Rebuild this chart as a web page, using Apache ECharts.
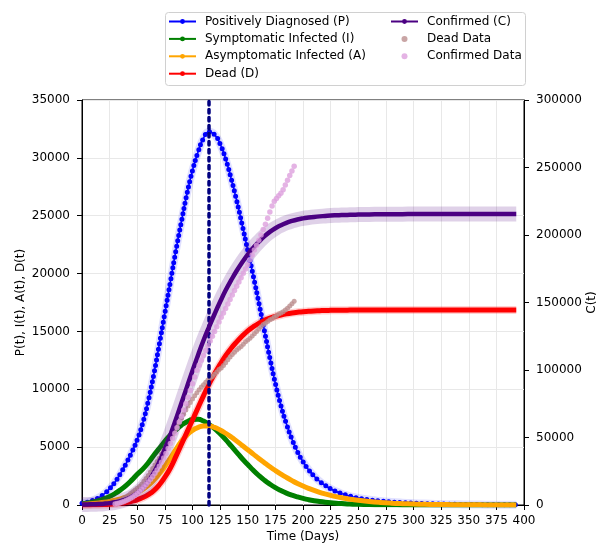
<!DOCTYPE html>
<html>
<head>
<meta charset="utf-8">
<script src="https://cdn.jsdelivr.net/npm/echarts@6/dist/echarts.min.js"></script>
<style>
  html, body { margin: 0; padding: 0; background: #fff; }
  #chart { width: 598px; height: 543px; }
</style>
</head>
<body>
<div id="chart"></div>
<script>
// Model time grid (days)
const modelDays = [0,5,10,15,20,25,30,35,40,45,50,55,60,65,70,75,80,85,90,95,100,105,110,115,120,125,130,135,140,145,150,155,160,165,170,175,180,185,190,195,200,205,210,215,220,225,230,235,240,245,250,260,270,280,290,300,310,320,330,340,350,360,370,380,390,393];

// Positively diagnosed P(t)
const positive = [150,250,400,620,950,1400,2000,2750,3600,4550,5650,7100,9000,11300,13900,16600,19300,22000,24500,26900,28900,30500,31700,32250,32000,31200,29900,28200,26300,24200,22000,19800,17500,15100,12700,10500,8600,7000,5700,4600,3750,3050,2500,2050,1700,1400,1170,980,830,700,600,450,340,260,200,155,120,92,72,56,44,34,27,21,17,16];

// Symptomatic infected I(t)
const symptomatic = [100,170,260,380,540,740,1000,1320,1700,2150,2650,3100,3650,4300,4900,5500,6050,6500,6900,7200,7380,7400,7250,6950,6600,6150,5650,5100,4550,4000,3500,3000,2550,2150,1800,1500,1250,1030,850,700,570,460,370,300,240,190,150,120,95,75,60,38,24,15,9,6,4,3,2,1,1,1,0,0,0,0];

// Asymptomatic infected A(t)
const asymptomatic = [50,80,120,170,230,310,410,530,680,860,1080,1350,1700,2150,2700,3350,4050,4800,5500,6050,6450,6700,6830,6830,6700,6480,6200,5880,5520,5150,4780,4400,4020,3660,3310,2980,2670,2380,2110,1860,1640,1440,1260,1100,960,835,725,630,545,470,405,300,220,160,117,85,62,45,33,24,17,12,9,6,4,4];

// Dead D(t)
const dead = [0,5,12,22,40,65,100,150,220,320,450,640,900,1250,1750,2400,3200,4200,5250,6300,7350,8400,9450,10450,11350,12150,12900,13550,14100,14600,15050,15400,15700,15950,16150,16300,16420,16520,16600,16660,16710,16740,16770,16790,16810,16820,16830,16835,16840,16845,16850,16850,16850,16850,16850,16850,16850,16850,16850,16850,16850,16850,16850,16850,16850,16850];

// Confirmed C(t), right axis
const confirmed = [300,400,550,750,1000,1400,2000,2900,4200,6100,8800,12500,17500,24000,32000,41500,52000,63500,75500,87500,99500,111000,122000,132000,141500,150500,159000,166500,173500,179800,185500,190500,195000,199000,202300,205000,207200,209000,210400,211500,212300,212900,213400,213800,214100,214400,214600,214750,214900,215000,215100,215250,215350,215400,215450,215500,215500,215500,215500,215500,215500,215500,215500,215500,215500,215500];

// Observed data (days since start)
const dataDays = [30,32,34,36,38,40,42,44,46,48,50,52,54,56,58,60,62,64,66,68,70,72,74,76,78,80,82,84,86,88,90,92,94,96,98,100,102,104,106,108,110,112,114,116,118,120,122,124,126,128,130,132,134,136,138,140,142,144,146,148,150,152,154,156,158,160,162,164,166,168,170,172,174,176,178,180,182,184,186,188,190,192];

const deadData = [250,300,380,480,600,720,850,1000,1150,1300,1450,1600,1800,2050,2300,2550,2850,3150,3450,3750,4050,4400,4750,5100,5450,5800,6100,6450,6800,7150,7500,7850,8200,8550,8850,9150,9450,9700,9950,10200,10400,10600,10800,10950,11100,11300,11500,11700,11850,12050,12300,12550,12800,13000,13200,13400,13550,13700,13900,14100,14250,14400,14600,14800,15000,15200,15400,15600,15700,15850,16000,16100,16250,16350,16500,16600,16700,16850,17000,17200,17400,17600];

const confirmedData = [800,1100,1500,2000,2600,3300,4100,5000,6000,7200,8500,10000,11600,13300,15100,17000,19000,21200,23500,26000,28700,31600,34800,38200,41800,45500,49300,53200,57300,61500,65800,70300,75000,79800,84800,89800,94800,99800,103500,107200,110800,114400,118000,121500,125000,128500,132000,135500,139000,142300,145600,148900,152200,155500,158800,162000,165200,168400,171600,174800,178000,181600,185200,188800,192400,196200,200000,204000,208000,212500,217000,221500,225000,227000,229000,231000,233500,237000,240500,244000,247500,251000];

// Day of the P(t) peak
const peakDay = 115;

// Axis ranges
const xRange = { min: 0, max: 400, step: 25 };
const leftRange = { min: 0, max: 35000, step: 5000 };
const rightRange = { min: 0, max: 300000, step: 50000 };

const FONT = 'DejaVu Sans';
const pairs = (xs, ys) => xs.map((x, i) => [x, ys[i]]);

function halo(ys, color, width, opacity, yAxisIndex, z) {
  return {
    type: 'line', name: '_halo', data: pairs(modelDays, ys), yAxisIndex,
    smooth: true, symbol: 'none', silent: true, z,
    lineStyle: { color, width, opacity, cap: 'butt', join: 'round' }
  };
}

function modelLine(name, ys, color, width, yAxisIndex, z) {
  return {
    type: 'line', name, data: pairs(modelDays, ys), yAxisIndex,
    smooth: true, symbol: 'circle', symbolSize: 5, showSymbol: false, z,
    color, itemStyle: { color },
    lineStyle: { color, width, cap: 'butt', join: 'round' },
    emphasis: { disabled: true }
  };
}

const axisText = { fontFamily: FONT, fontSize: 12, color: '#000' };

const option = {
  animation: false,
  backgroundColor: '#fff',
  grid: {
    left: 82, right: 74, top: 100, bottom: 38,
    outerBoundsMode: 'none', containLabel: false,
    show: true, borderColor: '#000', borderWidth: 1, backgroundColor: 'transparent'
  },
  graphic: [{
    type: 'rect', left: 165, top: 12, z: -1,
    shape: { width: 360, height: 73, r: 3 },
    style: { fill: '#fff', stroke: '#d0d0d0', lineWidth: 1 }
  }],
  legend: [
    {
      data: ['Positively Diagnosed (P)', 'Symptomatic Infected (I)', 'Asymptomatic Infected (A)', 'Dead (D)'],
      left: 168, top: 14.5, orient: 'vertical', padding: 0,
      itemWidth: 27, itemHeight: 6, itemGap: 3.4, selectedMode: false,
      lineStyle: { width: 2 },
      textStyle: { fontFamily: FONT, fontSize: 12, color: '#000', lineHeight: 14, padding: [0, 0, 0, 4] }
    },
    {
      data: ['Confirmed (C)', 'Dead Data', 'Confirmed Data'],
      left: 390, top: 14.5, orient: 'vertical', padding: 0,
      itemWidth: 27, itemHeight: 6, itemGap: 3.4, selectedMode: false,
      lineStyle: { width: 2 },
      textStyle: { fontFamily: FONT, fontSize: 12, color: '#000', lineHeight: 14, padding: [0, 0, 0, 4] }
    }
  ],
  xAxis: {
    type: 'value', min: xRange.min, max: xRange.max, interval: xRange.step,
    name: 'Time (Days)', nameLocation: 'middle', nameGap: 26, nameMoveOverlap: false,
    nameTextStyle: { fontFamily: FONT, fontSize: 12, color: '#000' },
    axisLine: { show: true, onZero: false, lineStyle: { color: '#000', width: 1 } },
    axisTick: { show: true, length: 5, lineStyle: { color: '#000' } },
    axisLabel: Object.assign({ margin: 10, formatter: v => String(v) }, axisText),
    splitLine: { show: true, lineStyle: { color: '#e8e8e8', width: 1 } }
  },
  yAxis: [
    {
      type: 'value', min: leftRange.min, max: leftRange.max, interval: leftRange.step, position: 'left',
      name: 'P(t), I(t), A(t), D(t)', nameLocation: 'middle', nameGap: 55, nameRotate: 90, nameMoveOverlap: false,
      nameTextStyle: { fontFamily: FONT, fontSize: 12, color: '#000' },
      axisLine: { show: true, lineStyle: { color: '#000', width: 1 } },
      axisTick: { show: true, length: 5, lineStyle: { color: '#000' } },
      axisLabel: Object.assign({ margin: 12, formatter: v => String(v) }, axisText),
      splitLine: { show: true, lineStyle: { color: '#e8e8e8', width: 1 } }
    },
    {
      type: 'value', min: rightRange.min, max: rightRange.max, interval: rightRange.step, position: 'right',
      name: 'C(t)', nameLocation: 'middle', nameGap: 62, nameRotate: 90, nameMoveOverlap: false,
      nameTextStyle: { fontFamily: FONT, fontSize: 12, color: '#000' },
      axisLine: { show: true, lineStyle: { color: '#000', width: 1 } },
      axisTick: { show: true, length: 5, lineStyle: { color: '#000' } },
      axisLabel: Object.assign({ margin: 12, formatter: v => String(v) }, axisText),
      splitLine: { show: false }
    }
  ],
  series: [
    // uncertainty halos
    halo(positive, '#0000ff', 8, 0.12, 0, 2),
    halo(dead, '#ff0000', 8, 0.18, 0, 2),

    modelLine('Positively Diagnosed (P)', positive, '#0000ff', 1.5, 0, 3),
    {
      // per-day markers along P(t)
      type: 'line', name: '_pmarks', data: pairs(modelDays, positive), yAxisIndex: 0,
      smooth: true, symbol: 'none', silent: true, z: 3,
      lineStyle: { color: '#0000ff', width: 5, type: [0, 5.5], cap: 'round' }
    },
    modelLine('Symptomatic Infected (I)', symptomatic, '#008000', 5, 0, 3),
    modelLine('Asymptomatic Infected (A)', asymptomatic, '#ffa500', 5, 0, 3),
    modelLine('Dead (D)', dead, '#ff0000', 5, 0, 3),
    {
      type: 'scatter', name: 'Dead Data', data: pairs(dataDays, deadData), yAxisIndex: 0,
      symbol: 'circle', symbolSize: 5, z: 4, itemStyle: { color: '#bc8f8f' }, color: '#bc8f8f'
    },

    halo(confirmed, '#4b0082', 15, 0.18, 1, 5),
    modelLine('Confirmed (C)', confirmed, '#4b0082', 4.5, 1, 6),
    {
      type: 'scatter', name: 'Confirmed Data', data: pairs(dataDays, confirmedData), yAxisIndex: 1,
      symbol: 'circle', symbolSize: 5.5, z: 7, itemStyle: { color: '#dda0dd' }, color: '#dda0dd'
    },
    {
      // vertical marker at the P(t) peak
      type: 'line', name: '_peak', data: [], yAxisIndex: 0, z: 10, silent: true,
      markLine: {
        silent: true, symbol: ['none', 'none'], label: { show: false },
        lineStyle: { color: '#000080', width: 3.5, type: [3.5, 4.5], cap: 'round' },
        data: [{ xAxis: peakDay }]
      }
    }
  ]
};

const chart = echarts.init(document.getElementById('chart'), null, { renderer: 'canvas' });
chart.setOption(option);
</script>
</body>
</html>
